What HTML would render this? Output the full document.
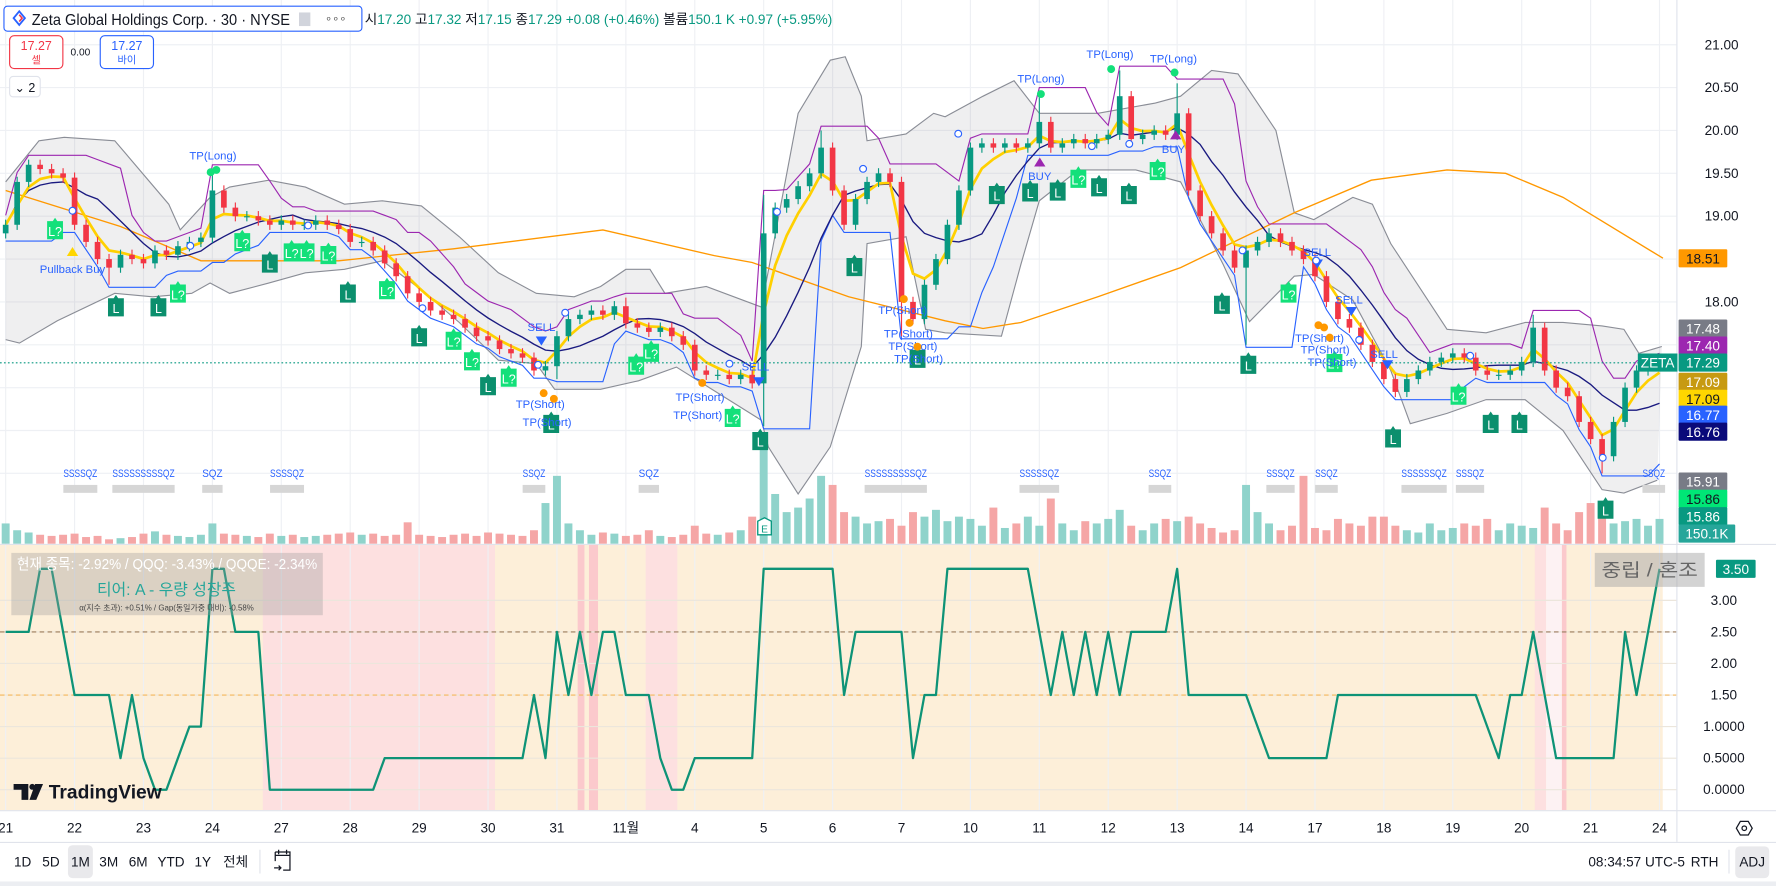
<!DOCTYPE html>
<html><head><meta charset="utf-8">
<style>
html,body{margin:0;padding:0;background:#fff;overflow:hidden;}
svg{display:block;font-family:"Liberation Sans","Noto Sans CJK KR",sans-serif;}
</style></head>
<body>
<svg id="chart" xmlns="http://www.w3.org/2000/svg" width="1776" height="886" viewBox="0 0 1568 782" preserveAspectRatio="none">
<defs><clipPath id="plotclip"><rect x="0" y="0" width="1480" height="480"/></clipPath></defs>
<rect x="0" y="0" width="1568" height="782" fill="#fff"/>
<g>
<rect x="0" y="481" width="1468" height="234" fill="#fdefd9"/>
<rect x="232" y="481" width="205" height="234" fill="#fde0e0"/>
<rect x="510" y="481" width="6" height="234" fill="#fbc9cc"/>
<rect x="520" y="481" width="8" height="234" fill="#fbc9cc"/>
<rect x="570" y="481" width="28" height="234" fill="#fde0e0"/>
<rect x="1355" y="481" width="10" height="234" fill="#fde0e0"/>
<rect x="1365" y="481" width="14" height="234" fill="#fdf2f3"/>
<rect x="1379" y="481" width="4" height="234" fill="#fbc9cc"/>
</g>
<g id="grid"></g>
<g id="pricepane" clip-path="url(#plotclip)"></g>
<g id="oscpane"></g>
<line x1="0" y1="480.5" x2="1568" y2="480.5" stroke="#e0e3eb" stroke-width="1"/>
<line x1="1480.5" y1="0" x2="1480.5" y2="743" stroke="#e0e3eb" stroke-width="1"/>
<line x1="0" y1="715.5" x2="1568" y2="715.5" stroke="#e0e3eb" stroke-width="1"/>
<line x1="0" y1="743.5" x2="1568" y2="743.5" stroke="#e0e3eb" stroke-width="1"/>
<rect x="0" y="778" width="1568" height="4" fill="#eceef2"/>

<g>
<rect x="3.5" y="5.5" width="316" height="22" rx="3" fill="#fff" stroke="#2962ff" stroke-width="1"/>
<path d="M17 10 L22 16 L17 22 L12 16 Z" fill="none" stroke="#2962ff" stroke-width="1.6"/>
<path d="M17 13 L19.5 16 L17 19" fill="none" stroke="#f23645" stroke-width="1.4"/>
<text x="28" y="22" font-size="14" fill="#131722" textLength="228" lengthAdjust="spacingAndGlyphs">Zeta Global Holdings Corp. · 30 · NYSE</text>
<rect x="264" y="11" width="10" height="12" fill="#d1d4dc"/>
<text x="287" y="20" font-size="10" fill="#555">∘∘∘</text>
</g>
<text x="322" y="21" font-size="12"><tspan fill="#131722">시</tspan><tspan fill="#089981">17.20 </tspan><tspan fill="#131722">고</tspan><tspan fill="#089981">17.32 </tspan><tspan fill="#131722">저</tspan><tspan fill="#089981">17.15 </tspan><tspan fill="#131722">종</tspan><tspan fill="#089981">17.29 +0.08 (+0.46%) </tspan><tspan fill="#131722">볼륨</tspan><tspan fill="#089981">150.1 K +0.97 (+5.95%)</tspan></text>
<g>
<rect x="8.5" y="31.5" width="47" height="29" rx="4" fill="#fff" stroke="#f23645"/>
<text x="32" y="44" font-size="11" fill="#f23645" text-anchor="middle">17.27</text>
<text x="32" y="56" font-size="9" fill="#f23645" text-anchor="middle">셀</text>
</g>
<text x="71" y="49" font-size="9" fill="#131722" text-anchor="middle">0.00</text>
<g>
<rect x="88.5" y="31.5" width="47" height="29" rx="4" fill="#fff" stroke="#2962ff"/>
<text x="112" y="44" font-size="11" fill="#2962ff" text-anchor="middle">17.27</text>
<text x="112" y="56" font-size="9" fill="#2962ff" text-anchor="middle">바이</text>
</g>
<g>
<rect x="8.5" y="67.5" width="27" height="18" rx="3" fill="#fff" stroke="#e0e3eb"/>
<text x="22" y="81" font-size="11" fill="#131722" text-anchor="middle">⌄ 2</text>
</g>

<g>
<rect x="10" y="488" width="275" height="55" fill="#9a9a9a" fill-opacity="0.35"/>
<text x="15" y="502" font-size="13" fill="#fff" textLength="265" lengthAdjust="spacingAndGlyphs">현재 종목: -2.92% / QQQ: -3.43% / QQQE: -2.34%</text>
<text x="147" y="525" font-size="14" fill="#26a69a" text-anchor="middle">티어: A - 우량 성장주</text>
<text x="147" y="539" font-size="7" fill="#444" text-anchor="middle">α(지수 초과): +0.51% / Gap(동일가중 대비): -0.58%</text>
</g>

<g id="axes"></g>

<g>
<rect x="1408" y="488" width="97" height="30" fill="#a8a8a8" fill-opacity="0.5"/>
<text x="1414" y="509" font-size="16" fill="#666" textLength="85" lengthAdjust="spacingAndGlyphs">중립 / 혼조</text>
</g>
<g>
<path d="M12 692 H25 V706 H19 V697 H12 Z" fill="#131722"/>
<circle cx="28.5" cy="694.5" r="2.6" fill="#131722"/>
<path d="M31 692 H38 L32 706 H26 Z" fill="#131722"/>
<text x="43" y="705" font-size="17" font-weight="bold" fill="#131722">TradingView</text>
</g>

<g font-size="12" fill="#131722">
<rect x="60" y="746" width="22" height="29" rx="4" fill="#e9e9ec"/>
<text x="20" y="765" text-anchor="middle">1D</text>
<text x="45" y="765" text-anchor="middle">5D</text>
<text x="71" y="765" text-anchor="middle">1M</text>
<text x="96" y="765" text-anchor="middle">3M</text>
<text x="122" y="765" text-anchor="middle">6M</text>
<text x="151" y="765" text-anchor="middle">YTD</text>
<text x="179" y="765" text-anchor="middle">1Y</text>
<text x="208" y="765" text-anchor="middle">전체</text>
<line x1="229.5" y1="750" x2="229.5" y2="771" stroke="#e0e3eb"/>
<g fill="none" stroke="#131722" stroke-width="1.1">
<path d="M243 752 H256 V768 H250 M243 752 V760 M243 755 H256 M246 750 V754 M253 750 V754"/>
<path d="M242 766 H248 M246 764 L248 766 L246 768"/>
</g>
<text x="1445" y="765" text-anchor="middle">08:34:57 UTC-5</text>
<text x="1505" y="765" text-anchor="middle">RTH</text>
<line x1="1526.5" y1="750" x2="1526.5" y2="771" stroke="#e0e3eb"/>
<rect x="1532" y="747" width="30" height="28" rx="4" fill="#e9e9ec"/>
<text x="1547" y="765" text-anchor="middle">ADJ</text>
</g>
<g>
<path d="M1533 731 L1536.5 725 L1543.5 725 L1547 731 L1543.5 737 L1536.5 737 Z" fill="none" stroke="#131722" stroke-width="1.1"/>
<circle cx="1540" cy="731" r="2" fill="none" stroke="#131722" stroke-width="1.1"/>
</g>
</svg>

<script>
// ---------------- data ----------------
const dayLabels = ["21","22","23","24","27","28","29","30","31","11월","4","5","6","7","10","11","12","13","14","17","18","19","20","21","24"];
const priceTicks = [21.00,20.50,20.00,19.50,19.00,18.00];
const oscTicks = [3.0,2.5,2.0,1.5,1.0,0.5,0.0];
const oscTickLabels = ["3.00","2.50","2.00","1.50","1.0000","0.5000","0.0000"];
const closes = [
18.9,19.4,19.6,19.55,19.5,19.45,
18.9,18.7,18.5,18.4,18.55,18.5,
18.45,18.6,18.55,18.65,18.7,18.75,
19.3,19.1,19.0,19.0,18.95,18.9,
18.95,18.9,18.9,18.95,18.9,18.85,
18.7,18.7,18.6,18.45,18.3,18.1,
18.0,17.9,17.85,17.8,17.7,17.6,
17.55,17.45,17.4,17.35,17.2,17.25,
17.6,17.8,17.85,17.9,17.85,17.95,
17.75,17.7,17.65,17.7,17.6,17.5,
17.2,17.15,17.15,17.1,17.15,17.05,
18.8,19.1,19.2,19.35,19.5,19.8,
19.3,18.9,19.2,19.4,19.5,19.4,
18.0,17.8,18.2,18.5,18.9,19.3,
19.8,19.85,19.8,19.85,19.8,19.85,
20.1,19.8,19.85,19.9,19.85,19.9,
19.95,20.4,19.9,19.95,20.0,19.95,
20.2,19.3,19.0,18.8,18.6,18.4,
18.6,18.7,18.8,18.7,18.6,18.5,
18.3,18.0,17.8,17.7,17.5,17.3,
17.1,16.95,17.1,17.2,17.3,17.35,
17.4,17.35,17.2,17.15,17.15,17.2,
17.3,17.7,17.2,17.0,16.9,16.6,
16.4,16.2,16.6,17.0,17.2,17.25,
17.29];
const firstOpen = 18.8;
const wickHigh = {18:19.55,54:18.05,66:19.25,71:20.0,90:20.45,97:20.7,102:20.55,133:17.85};
const wickLow = {9:18.2,48:17.1,66:16.55,78:17.6,108:17.5,139:16.0};
const volumes = [
90,60,50,40,35,40, 45,30,35,20,25,30, 45,55,40,35,30,40, 90,45,40,35,30,45,
35,40,30,35,40,45, 50,40,45,35,40,95, 40,35,30,40,45,35, 50,45,40,35,60,180,
300,90,60,40,50,45, 35,40,60,35,30,40, 80,45,40,50,60,120, 420,220,140,160,200,300,
260,140,120,90,100,110, 80,140,120,150,100,120, 110,80,160,70,90,120, 80,200,90,60,100,90,
110,150,80,60,90,110, 100,120,90,70,50,60, 260,140,90,60,80,300, 70,60,110,90,80,120,
120,80,60,50,90,60, 70,90,80,110,60,90, 80,70,160,90,60,140, 180,120,90,100,110,80,
110];
const oscValues = [
2.5,2.5,2.5,3.5,3.5,2.5, 1.5,1.5,1.5,1.5,0.5,1.5, 0.5,0,0,0.5,1,1, 3.5,3.5,2.5,2.5,2.5,0,
0,0,0,0,0,0, 0,0,0,0.5,0.5,0.5, 0.5,0.5,0.5,0.5,0.5,0.5, 0.5,0.5,0.5,0.5,1.5,0.5,
2.5,1.5,2.5,1.5,2.5,2.5, 1.5,1.5,1.5,0.5,0,0, 0.5,0.5,0.5,0.5,0.5,0.5, 3.5,3.5,3.5,3.5,3.5,3.5,
3.5,1.5,2.5,2.5,2.5,2.5, 2.5,0.5,1.5,1.5,3.5,3.5, 3.5,3.5,3.5,3.5,3.5,3.5, 2.5,1.5,2.5,1.5,2.5,1.5,
2.5,1.5,2.5,2.5,2.5,2.5, 3.5,1.5,1.5,1.5,1.5,1.5, 1.5,1,0.5,0.5,0.5,0.5, 0.5,0.5,1.5,1.5,1.5,1.5,
1.5,1.5,1.5,1.5,1.5,1.5, 1.5,1.5,1.5,1,0.5,1.5, 1.5,2.5,1.5,0.5,0.5,0.5, 0.5,0.5,0.5,2.5,1.5,2.5,
3.5];
const bandUpperIdx = [0,2.9,5.1,9.5,14.2,15.2,17.8,19.5,22.9,26.1,29.5,32.8,36.2,39.5,42.9,46.2,49.5,51.8,54,56.1,57.4,61,65.8,66.8,69,71.8,73.1,74.5,75,78.4,80.8,81.8,85.1,87.8,90,95.1,100.1,102.3,105,107.3,110.6,112.2,113.9,117.3,119,120.6,125.5,128.9,132.3,135.6,139,140.9,142.2,144.2];
const bandUpper = [19.4,19.88,19.92,19.88,19.14,18.84,19.22,19.34,19.42,19.34,19.14,19.18,19.12,18.76,18.34,18.10,18.06,18.18,18.38,18.38,18.10,18.18,17.94,18.64,20.20,20.82,20.86,20.40,19.88,19.96,20.20,20.16,20.40,20.58,20.20,20.20,20.32,20.40,20.70,20.66,20.00,19.04,18.96,19.22,19.14,18.68,17.68,17.64,17.76,17.76,17.72,17.68,17.40,17.48];
const bandLowerIdx = [0,1.2,4.5,9.5,12.8,16.2,17.8,19.5,22.9,26.1,29.5,32.8,36.2,39.5,42.9,46.2,47.8,51.8,55.1,58.4,65.8,66.4,69,71.8,74.5,75,78.4,80.1,81.8,86.7,88.4,90,93.4,98.4,102.3,104,106,108.3,112.2,113.9,117.3,120.6,122.3,125.5,128.9,132.3,135.6,139,140.9,143.8];
const bandLower = [17.56,17.52,17.78,18.10,18.06,18.10,18.22,18.10,18.22,18.34,18.38,18.48,18.14,17.76,17.32,17.28,16.98,16.98,17.08,17.24,16.62,16.31,15.76,16.31,17.48,18.68,18.76,17.68,17.64,17.60,18.44,19.18,19.54,19.54,19.40,18.96,18.44,17.77,18.30,18.32,18.02,17.20,16.58,16.70,16.86,16.86,16.50,15.81,15.77,15.92];
const longMaIdx = [0,10,17,29,39,52,61.7,65,73.4,81.8,85.1,88.4,95.1,102.3,112.2,118.9,125.5,130.6,135.6,144.3];
const longMa = [19.30,18.88,18.48,18.48,18.62,18.84,18.54,18.46,18.06,17.78,17.69,17.76,18.06,18.40,19.04,19.42,19.54,19.50,19.22,18.51];
const longSignalsIdx = [9.6,13.3,23,29.8,36,42,47.5,65.7,73.9,79.4,86.3,89.2,91.6,95.2,97.8,105.9,108.2,120.8,129.3,131.8,139.3];
const longSignalsPrice = [17.95,17.95,18.46,18.11,17.60,17.03,16.59,16.39,18.42,17.35,19.26,19.29,19.30,19.35,19.26,17.98,17.28,16.42,16.59,16.59,15.59];
const probeSignalsIdx = [4.3,15,20.6,24.9,26.2,28.1,33.2,39,40.6,43.8,54.9,56.2,63.3,93.4,100.3,111.7,115.7,126.5];
const probeSignalsPrice = [18.85,18.11,18.71,18.59,18.59,18.56,18.15,17.56,17.32,17.13,17.27,17.42,16.66,19.45,19.54,18.11,17.30,16.92];
const sqzIdx = [6.5,12,18,24.5,46,56,77.5,90,100.5,111,115,123.5,127.5,143.5];
const sqzText = ["SSSSQZ","SSSSSSSSSQZ","SQZ","SSSSQZ","SSQZ","SQZ","SSSSSSSSSQZ","SSSSSQZ","SSQZ","SSSQZ","SSQZ","SSSSSSQZ","SSSQZ","SSQZ"];
const tagLabels = ["18.51","17.48","17.40","17.29","17.09","17.09","16.77","16.76"];
const tagColors = ["#ff9800","#787b86","#9c27b0","#089981","#c79a12","#ffd600","#2962ff","#0a0a7a"];
const tagText = ["#131722","#fff","#fff","#fff","#fff","#131722","#fff","#fff"];
const tagY = [228,290,305,320,337,352,366,381];
const lowerTags = [["15.91","#787b86","#fff"],["15.86","#00e676","#131722"],["15.86","#089981","#fff"],["150.1K","#26a69a","#fff"]];

// ---------------- scales ----------------
const NS = "http://www.w3.org/2000/svg";
const X0 = 5, DX = 10.14;
function xI(i){ return X0 + i*DX; }
function yP(p){ return 39.5 + (21-p)*75.66; }
function yO(v){ return 697 - v*55.7; }
function yV(v){ return 480 - v*0.2; }
function mk(tag, attrs, parent){ const e=document.createElementNS(NS,tag); for(const k in attrs) e.setAttribute(k,attrs[k]); parent.appendChild(e); return e; }
const grid = document.getElementById('grid');
const pp = document.getElementById('pricepane');
const op = document.getElementById('oscpane');
const ax = document.getElementById('axes');

dayLabels.forEach((d,k)=>{
  const x = xI(k*6);
  const g = mk('line',{x1:x,y1:0,x2:x,y2:715,stroke:'#eef0f4','stroke-width':1},grid);
  
  
  const t = mk('text',{x:Math.max(x,5),y:735,'font-size':12,fill:'#131722','text-anchor':'middle'},ax);
  t.textContent = d;
  
  
});
priceTicks.concat([18.5,17.5,17.0,16.5,16.0]).forEach(p=>{
  const g = mk('line',{x1:0,y1:yP(p),x2:1480,y2:yP(p),stroke:'#eef0f4','stroke-width':1},grid);
  
  
});
priceTicks.forEach(p=>{
  const t = mk('text',{x:1520,y:yP(p)+4,'font-size':12,fill:'#131722','text-anchor':'middle'},ax);
  t.textContent = p.toFixed(2);
  
  
});
oscTicks.forEach((v,k)=>{
  const g = mk('line',{x1:0,y1:yO(v),x2:1480,y2:yO(v),stroke:'#ece6dc','stroke-width':1},grid);
  
  
  const t = mk('text',{x:1522,y:yO(v)+4,'font-size':12,fill:'#131722','text-anchor':'middle'},ax);
  t.textContent = oscTickLabels[k];
  
  
});

(function(){
  let d='M'+bandUpperIdx.map((i,k)=>xI(i)+','+yP(bandUpper[k])).join(' L');
  for(let k=bandLowerIdx.length-1;k>=0;k--) d+=' L'+xI(bandLowerIdx[k])+','+yP(bandLower[k]);
  d+=' Z';
  const f = mk('path',{d:d,fill:'#787b86','fill-opacity':0.12,stroke:'none'},pp);
  
  
  const u = mk('polyline',{points:bandUpperIdx.map((i,k)=>xI(i)+','+yP(bandUpper[k])).join(' '),fill:'none',stroke:'#8a8d96','stroke-width':1},pp);
  
  
  const l = mk('polyline',{points:bandLowerIdx.map((i,k)=>xI(i)+','+yP(bandLower[k])).join(' '),fill:'none',stroke:'#8a8d96','stroke-width':1},pp);
  
  
})();

const opens = closes.map((c,i)=> i===0 ? firstOpen : closes[i-1]);
volumes.forEach((v,i)=>{
  const up = closes[i] >= opens[i];
  const r = mk('rect',{x:xI(i)-3.5,y:yV(v),width:7,height:480-yV(v),fill:up?'#8fd3cb':'#f5a6a6'},pp);
  
  
});

const lm = mk('polyline',{points:longMaIdx.map((i,k)=>xI(i)+','+yP(longMa[k])).join(' '),fill:'none',stroke:'#ff9800','stroke-width':1.2},pp);



const highs = closes.map((c,i)=> wickHigh[i]!==undefined ? wickHigh[i] : Math.max(c,opens[i])+0.06);
const lows = closes.map((c,i)=> wickLow[i]!==undefined ? wickLow[i] : Math.min(c,opens[i])-0.06);
const ema=[], mid=[], upEnv=[], loEnv=[];
closes.forEach((c,i)=>{
  ema.push(i===0?c:ema[i-1]*0.55+c*0.45);
  const s=closes.slice(Math.max(0,i-7),i+1); mid.push(s.reduce((a,b)=>a+b,0)/s.length);
  upEnv.push(Math.max(...highs.slice(Math.max(0,i-4),i+1))+0.05);
  loEnv.push(Math.min(...lows.slice(Math.max(0,i-4),i+1))-0.03);
});
[[upEnv,'#9c27b0',1,'keltner-upper'],[loEnv,'#2962ff',1,'keltner-lower'],[mid,'#1a1a80',1.2,'middle-line'],[ema,'#ffd000',2.4,'fast-ema']].forEach(s=>{
  const pl = mk('polyline',{points:s[0].map((v,i)=>xI(i)+','+yP(v)).join(' '),fill:'none',stroke:s[1],'stroke-width':s[2]},pp);
  
  
});

closes.forEach((c,i)=>{
  const o=opens[i], up=c>=o, col=up?'#089981':'#f23645', x=xI(i);
  const w = mk('line',{x1:x,y1:yP(highs[i]),x2:x,y2:yP(lows[i]),stroke:col,'stroke-width':1},pp);
  
  
  const top=yP(Math.max(o,c)), bot=yP(Math.min(o,c));
  const b = mk('rect',{x:x-2.5,y:top,width:5,height:Math.max(1,bot-top),fill:col},pp);
  
  
});

const cp = mk('line',{x1:0,y1:yP(17.29),x2:1480,y2:yP(17.29),stroke:'#089981','stroke-width':1,'stroke-dasharray':'1.5 2'},pp);



function badge(i,p,txt,fill,name){
  const g = mk('g',{},pp);
  
  
  const x=xI(i), y=yP(p);
  mk('path',{d:`M${x-7} ${y-7} H${x-2} L${x} ${y-10} L${x+2} ${y-7} H${x+7} V${y+9} H${x-7} Z`,fill:fill},g);
  const t = mk('text',{x:x,y:y+6,'font-size':11,fill:'#fff','text-anchor':'middle'},g);
  t.textContent = txt;
}
longSignalsIdx.forEach((i,k)=> badge(i,longSignalsPrice[k],'L','#0b8f6d','long-signal'));
probeSignalsIdx.forEach((i,k)=> badge(i,probeSignalsPrice[k],'L?','#13e07a','probe-long-signal'));
sqzIdx.forEach((i,k)=>{
  const t = mk('text',{x:xI(i),y:421,'font-size':10,fill:'#2962ff','text-anchor':'middle','textLength':Math.max(18,sqzText[k].length*5),lengthAdjust:'spacingAndGlyphs'},pp);
  t.textContent = sqzText[k];
  
  
  const r = mk('rect',{x:xI(i)-Math.max(9,sqzText[k].length*2.5),y:428,width:Math.max(18,sqzText[k].length*5),height:7,fill:'#d6d6d6'},pp);
  
  
});

const dl1 = mk('line',{x1:0,y1:yO(2.5),x2:1480,y2:yO(2.5),stroke:'#9a7b5c','stroke-width':1,'stroke-dasharray':'4 3'},op);


const dl2 = mk('line',{x1:0,y1:yO(1.5),x2:1480,y2:yO(1.5),stroke:'#f5b75c','stroke-width':1,'stroke-dasharray':'4 3'},op);


const ol = mk('polyline',{points:oscValues.map((v,i)=>xI(i)+','+yO(v)).join(' '),fill:'none',stroke:'#0e9377','stroke-width':2,'stroke-linejoin':'round'},op);



function tag(x,y,txt,bg,fg,w,name){
  const g = mk('g',{},ax);
  
  
  mk('rect',{x:x,y:y-8,width:w,height:16,rx:1,fill:bg},g);
  const t = mk('text',{x:x+w/2,y:y+4.5,'font-size':12,fill:fg,'text-anchor':'middle'},g);
  t.textContent = txt;
}
tagLabels.forEach((l,k)=> tag(1482,tagY[k],l,tagColors[k],tagText[k],43,'price-tag'));
lowerTags.forEach((a,k)=> tag(1482,425+k*15.3,a[0],a[1],a[2],k===3?50:43,'lower-price-tag'));
tag(1515,yO(3.5),'3.50','#089981','#fff',35,'oscillator-value-tag');
(function(){
  const g = mk('g',{},ax);
  
  
  mk('rect',{x:1483-37,y:320-8,width:35,height:16,fill:'#089981'},g);
  const t = mk('text',{x:1483-19.5,y:320+4.5,'font-size':12,fill:'#fff','text-anchor':'middle'},g);
  t.textContent='ZETA';
})();

(function(){
  const labels=[["Pullback Buy",64,241],["TP(Long)",188,141],["TP(Long)",919,73],["TP(Long)",980,51],["TP(Long)",1036,55],
  ["TP(Short)",477,360],["TP(Short)",483,376],["TP(Short)",618,354],["TP(Short)",616,370],
  ["TP(Short)",797,277],["TP(Short)",802,298],["TP(Short)",806,309],["TP(Short)",811,320],
  ["TP(Short)",1165,302],["TP(Short)",1170,312],["TP(Short)",1176,323],
  ["SELL",478,292],["SELL",667,327],["SELL",1163,226],["SELL",1191,268],["SELL",1222,316],
  ["BUY",918,159],["BUY",1036,135]];
  labels.forEach(l=>{
    const t=mk('text',{x:l[1],y:l[2],'font-size':10,fill:'#2962ff','text-anchor':'middle'},pp);
    t.textContent=l[0];
    
    
  });
  const dots=[[186,152,"#13e07a"],[191,150,"#13e07a"],[919,83,"#13e07a"],[981,61,"#13e07a"],[1037,64,"#13e07a"],
  [480,347,"#ff9800"],[489,352,"#ff9800"],[620,338,"#ff9800"],[798,264,"#ff9800"],[803,285,"#ff9800"],[810,306,"#ff9800"],[1164,287,"#ff9800"],[1169,289,"#ff9800"],[1174,298,"#ff9800"]];
  dots.forEach(d=>{
    const c=mk('circle',{cx:d[0],cy:d[1],r:3.5,fill:d[2]},pp);
    
    
  });
  const tris=[[478,301,1,"#2962ff"],[670,337,1,"#2962ff"],[1163,233,1,"#2962ff"],[1193,275,1,"#2962ff"],[1225,322,1,"#2962ff"],[918,143,-1,"#9c27b0"],[1038,119,-1,"#9c27b0"],[64,222,-1,"#ffd600"]];
  tris.forEach(t=>{
    const x=t[0],y=t[1],s=t[2];
    const p=mk('path',{d:`M${x-5} ${y-4*s} L${x+5} ${y-4*s} L${x} ${y+4*s} Z`,fill:t[3]},pp);
    
    
  });
  const rings=[[64,186],[168,217],[272,199],[373,272],[475,322],[499,276],[644,321],[686,187],[762,149],[846,118],[964,129],[997,127],[1097,221],[1162,230],[1200,300],[1298,314],[1415,404]];
  rings.forEach(r=>{
    const c=mk('circle',{cx:r[0],cy:r[1],r:3,fill:'#fff',stroke:'#2962ff','stroke-width':1},pp);
    
    
  });
  const e=mk('g',{},pp);
  
  
  e.innerHTML='<path d="M669 460 L675 457 L681 460 L681 472 L669 472 Z" fill="#fff" stroke="#089981" stroke-width="1.2"/><text x="675" y="470" font-size="9" fill="#089981" text-anchor="middle">E</text>';
})();
</script>
</body></html>
